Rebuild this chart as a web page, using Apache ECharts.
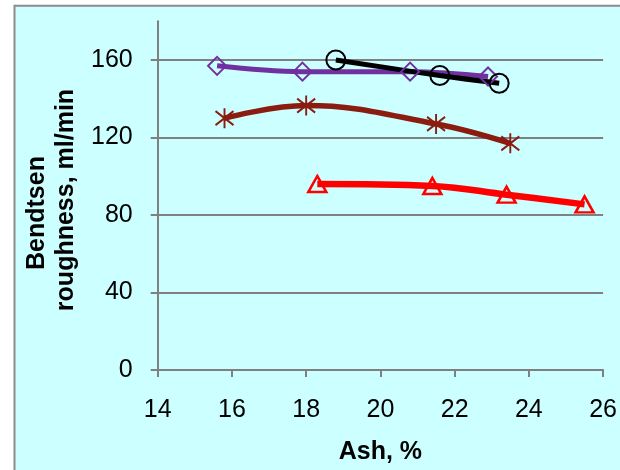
<!DOCTYPE html>
<html>
<head>
<meta charset="utf-8">
<script src="https://cdn.jsdelivr.net/npm/echarts@6/dist/echarts.min.js"></script>
<style>
html,body{margin:0;padding:0;background:#ffffff;}
#chart{width:620px;height:470px;}
</style>
</head>
<body>
<div id="chart"></div>
<script>
// Data
var purpleX = [15.6, 17.9, 20.8, 22.9];
var purpleY = [157, 154, 154, 151.5];
var blackX = [18.8, 21.6, 23.2];
var blackY = [160, 152, 148];
var brownX = [15.8, 18.0, 21.5, 23.5];
var brownY = [130, 136.5, 127, 117];
var redX = [18.3, 21.4, 23.4, 25.5];
var redY = [96, 95, 90.5, 85.5];
var xTicks = [14, 16, 18, 20, 22, 24, 26];
var yTicks = [0, 40, 80, 120, 160];

function pairs(xs, ys){ return xs.map(function(x,i){ return [x, ys[i]]; }); }

var FONT = 'Liberation Sans, Arial, sans-serif';
var asterisk = 'path://M9,0L9,20M0,3L18,17M0,17L18,3';

var chart = echarts.init(document.getElementById('chart'));
chart.setOption({
  backgroundColor: '#ffffff',
  animation: false,
  graphic: [
    { type: 'rect', z: -10, shape: { x: 14.5, y: 5.7, width: 700, height: 600 },
      style: { fill: '#CCFFFF', stroke: '#8C8C8C', lineWidth: 2 } },
    { type: 'text', x: 37, y: 213, rotation: Math.PI / 2,
      style: { text: 'Bendtsen', font: 'bold 25px ' + FONT, fill: '#000', textAlign: 'center', textVerticalAlign: 'middle' } },
    { type: 'text', x: 66, y: 200, rotation: Math.PI / 2,
      style: { text: 'roughness, ml/min', font: 'bold 25px ' + FONT, fill: '#000', textAlign: 'center', textVerticalAlign: 'middle' } }
  ],
  grid: { left: 157.7, right: 16, top: 21.3, bottom: 98, containLabel: false },
  xAxis: {
    type: 'value', min: 14, max: 26, interval: 2,
    name: 'Ash, %', nameLocation: 'middle', nameGap: 70,
    nameTextStyle: { fontFamily: FONT, fontSize: 25, fontWeight: 'bold', color: '#000' },
    axisLine: { lineStyle: { color: '#808080', width: 2 } },
    axisTick: { show: true, length: 7, lineStyle: { color: '#808080', width: 2 } },
    axisLabel: { fontFamily: FONT, fontSize: 25, color: '#000', margin: 28 },
    splitLine: { show: false }
  },
  yAxis: {
    type: 'value', min: 0, max: 180, interval: 40,
    axisLine: { show: true, lineStyle: { color: '#808080', width: 2 } },
    axisTick: { show: true, length: 7, customValues: yTicks, lineStyle: { color: '#808080', width: 2 } },
    axisLabel: { fontFamily: FONT, fontSize: 25, color: '#000', margin: 25, customValues: yTicks },
    splitLine: { show: true, lineStyle: { color: '#808080', width: 2 } }
  },
  series: [
    { type: 'line', data: pairs(purpleX, purpleY), smooth: 0.4,
      lineStyle: { color: '#7030A0', width: 5 },
      symbol: 'diamond', symbolSize: 18, showAllSymbol: true,
      itemStyle: { color: 'rgba(0,0,0,0)', borderColor: '#7030A0', borderWidth: 2 } },
    { type: 'line', data: pairs(brownX, brownY), smooth: 0.4,
      lineStyle: { color: '#8A1C10', width: 5.5 },
      symbol: asterisk, symbolSize: [18, 20],
      itemStyle: { color: 'rgba(0,0,0,0)', borderColor: '#8A1C10', borderWidth: 2 } },
    { type: 'line', data: pairs(redX, redY), smooth: 0.4,
      lineStyle: { color: '#FF0000', width: 6.5 },
      symbol: 'triangle', symbolSize: [18, 16],
      itemStyle: { color: 'rgba(0,0,0,0)', borderColor: '#FF0000', borderWidth: 2.5 } },
    { type: 'line', data: pairs(blackX, blackY), smooth: 0.4,
      lineStyle: { color: '#000000', width: 5 },
      symbol: 'circle', symbolSize: 19,
      itemStyle: { color: 'rgba(0,0,0,0)', borderColor: '#000000', borderWidth: 2 } }
  ]
});
</script>
</body>
</html>
